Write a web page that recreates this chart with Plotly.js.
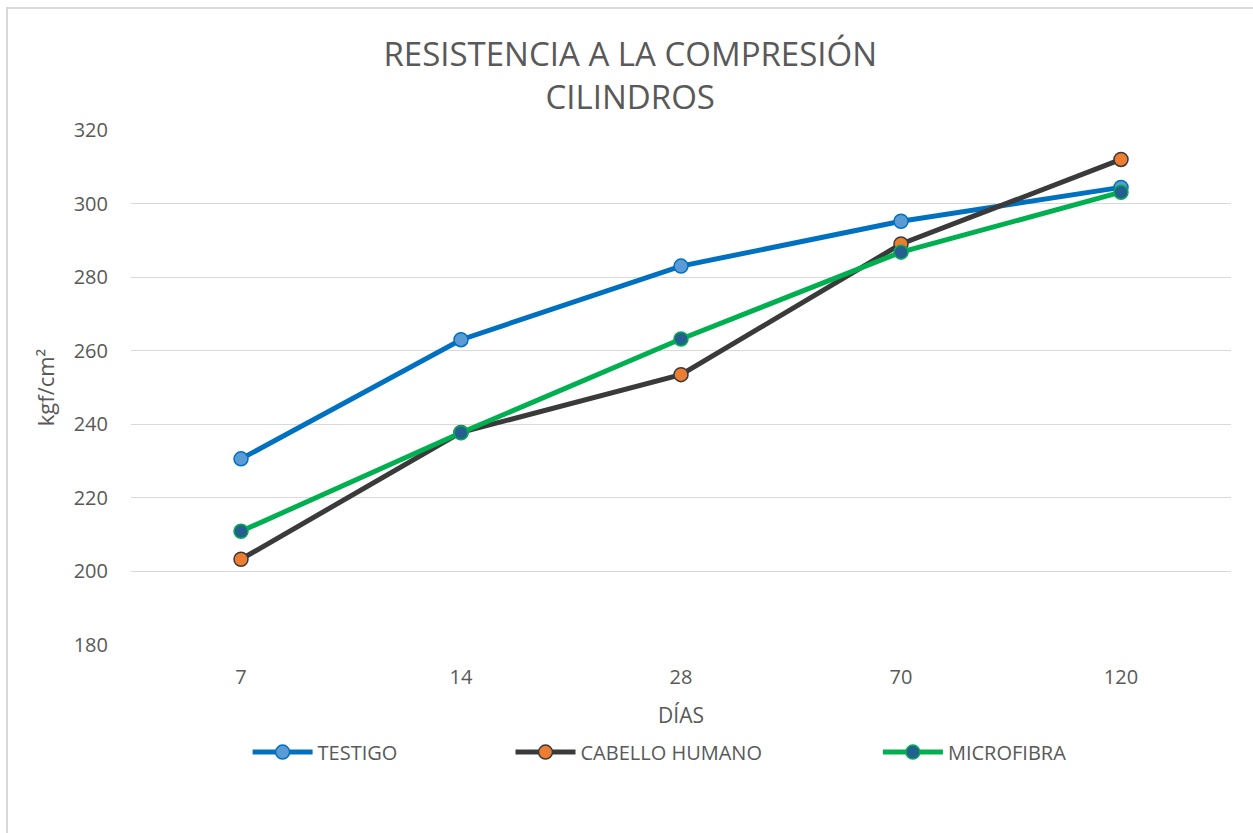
<!DOCTYPE html>
<html>
<head>
<meta charset="utf-8">
<script src="https://cdn.plot.ly/plotly-3.0.1.min.js"></script>
<style>
  html, body { margin: 0; padding: 0; background: #ffffff; }
  #wrap { position: relative; width: 1253px; height: 833px; overflow: hidden; }
  #chart { position: absolute; left: 0; top: 0; width: 1253px; height: 833px; }
  #frame { position: absolute; left: 6px; top: 7px; width: 1400px; height: 1000px;
           border-left: 2px solid #d9d9d9; border-top: 2px solid #d9d9d9; pointer-events: none; }
</style>
</head>
<body>
<div id="wrap">
  <div id="chart"></div>
  <div id="frame"></div>
</div>
<script>
// Curing age (days) and compressive strength of the cylinders (kgf/cm²)
const dias = ['7', '14', '28', '70', '120'];
const testigo = [230.6, 263.0, 283.0, 295.2, 304.4];
const cabelloHumano = [203.3, 237.8, 253.5, 289.0, 312.0];
const microfibra = [210.9, 237.7, 263.2, 286.8, 303.1];
const yTicks = [180, 200, 220, 240, 260, 280, 300, 320];

const FONT = '"Open Sans", "Liberation Sans", sans-serif';
const GREY = '#595959';

function serie(name, values, lineColor, fill, edge, legendId) {
  return {
    type: 'scatter', mode: 'lines+markers', name: name,
    x: dias, y: values, legend: legendId,
    line: { color: lineColor, width: 5 },
    marker: { size: 14, color: fill, line: { color: edge, width: 1.5 } }
  };
}

const data = [
  serie('TESTIGO', testigo, '#0070C0', '#5B9BD5', '#0070C0', 'legend'),
  serie('CABELLO HUMANO', cabelloHumano, '#3A3A3A', '#ED7D31', '#3A3A3A', 'legend2'),
  serie('MICROFIBRA', microfibra, '#00B050', '#255E91', '#00B050', 'legend3')
];

function leyenda(x) {
  return {
    orientation: 'h', x: x, xanchor: 'left', y: -0.208, yanchor: 'middle',
    itemwidth: 60, font: { family: FONT, size: 20, color: GREY },
    bgcolor: 'rgba(0,0,0,0)'
  };
}

const layout = {
  width: 1253, height: 833,
  margin: { l: 131, r: 22, t: 130, b: 188 },
  paper_bgcolor: 'rgba(0,0,0,0)', plot_bgcolor: 'rgba(0,0,0,0)',
  font: { family: FONT, color: GREY },
  title: {
    text: 'RESISTENCIA A LA COMPRESIÓN<br>CILINDROS',
    font: { family: FONT, size: 33, color: GREY },
    x: 0.503, xanchor: 'center', xref: 'container', y: 0.921, yanchor: 'middle'
  },
  xaxis: {
    type: 'category', range: [-0.5, 4.5],
    showgrid: false, zeroline: false, showline: false, ticks: '',
    ticklabelstandoff: 18,
    tickfont: { family: FONT, size: 20, color: GREY },
    title: { text: 'DÍAS', font: { family: FONT, size: 21, color: GREY }, standoff: 19 }
  },
  yaxis: {
    range: [180, 320], tickvals: yTicks,
    showgrid: true, gridcolor: '#d9d9d9', gridwidth: 1,
    zeroline: false, showline: false, ticks: '',
    ticklabelstandoff: 22,
    tickfont: { family: FONT, size: 20, color: GREY },
    title: { text: 'kgf/cm²', font: { family: FONT, size: 22, color: GREY }, standoff: 12 }
  },
  showlegend: true,
  legend: leyenda(0.106),
  legend2: leyenda(0.345),
  legend3: leyenda(0.679)
};

Plotly.newPlot('chart', data, layout, { displayModeBar: false, staticPlot: true });
</script>
</body>
</html>
